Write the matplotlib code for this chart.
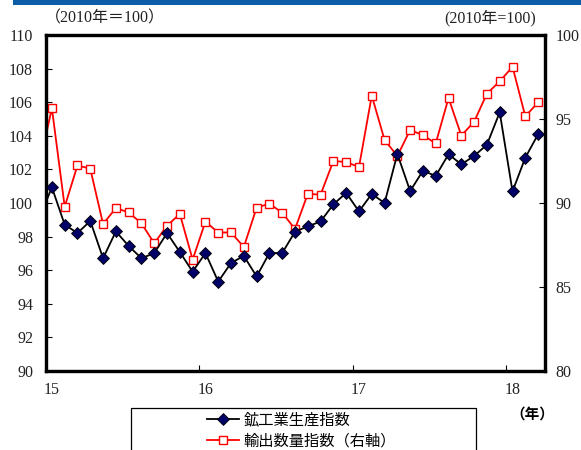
# -*- coding: utf-8 -*-
"""
鉱工業生産指数と輸出数量指数の推移 (2015年1月〜2018年3月)
"""
import matplotlib
matplotlib.use("Agg")
import matplotlib.pyplot as plt
from matplotlib.lines import Line2D
from matplotlib.patches import Rectangle
import numpy as np

# ==================== データ ====================
# 先頭は2014年12月 (左端でクリップされる)
months = np.arange(-1, 39)

production = [
    99.07,
    100.93, 98.71, 98.21, 98.93, 96.71, 98.31, 97.44, 96.71, 97.02, 98.21, 97.08, 95.91,
    97.02, 95.32, 96.43, 96.85, 95.63, 97.02, 97.02, 98.29, 98.61, 98.90, 99.92, 100.60,
    99.50, 100.54, 100.00, 102.92, 100.71, 101.92, 101.61, 102.90, 102.30, 102.80, 103.47, 105.40,
    100.69, 102.70, 104.09,
]

exports = [
    92.20,
    95.64, 89.78, 92.24, 92.04, 88.75, 89.70, 89.44, 88.79, 87.60, 88.65, 89.35, 86.63,
    88.89, 88.24, 88.25, 87.38, 89.72, 89.96, 89.42, 88.45, 90.54, 90.50, 92.50, 92.44,
    92.14, 96.39, 93.75, 92.80, 94.35, 94.03, 93.55, 96.25, 94.01, 94.84, 96.51, 97.24,
    98.11, 95.16, 95.99,
]

year_pos = [0, 12, 24, 36]
year_labels = ["15", "16", "17", "18"]
label_prod = "鉱工業生産指数"
label_exp = "輸出数量指数（右軸）"

SERIF = ["Liberation Serif", "Noto Sans CJK JP"]
JP = ["Noto Sans CJK JP", "DejaVu Sans"]

# ==================== 描画 ====================
fig = plt.figure(figsize=(5.81, 4.5), dpi=100)
ax = fig.add_axes([45.5 / 581, 79 / 450, 499 / 581, 336 / 450])
ax2 = ax.twinx()

ax.plot(months, production, color="black", linewidth=1.3, marker="D", markersize=6,
        markerfacecolor="#000066", markeredgecolor="black", markeredgewidth=0.6,
        zorder=3, clip_on=True)
ax2.plot(months, exports, color="red", linewidth=1.3, marker="s", markersize=5.5,
         markerfacecolor="white", markeredgecolor="red", markeredgewidth=1.0,
         zorder=3, clip_on=True)
ax.set_zorder(ax2.get_zorder() + 1)
ax.patch.set_visible(False)

ax.set_xlim(-0.5, 38.5)
ax.set_ylim(90, 110)
ax2.set_ylim(80, 100)

# x軸: 区切り目盛りは内向き, ラベルは1月の位置
ax.set_xticks([11.5, 23.5, 35.5])
ax.set_xticklabels([])
ax.set_xticks(year_pos, minor=True)
ax.set_xticklabels(year_labels, minor=True, family=SERIF, fontsize=11.5, color="#222222")
ax.tick_params(axis="x", which="major", direction="in", length=4, width=0.8)
ax.tick_params(axis="x", which="minor", length=0, pad=8)

ax.set_yticks(np.arange(90, 111, 2))
ax.set_yticklabels([str(v) for v in range(90, 111, 2)], family=SERIF, fontsize=11.5,
                   color="#222222")
ax.tick_params(axis="y", direction="in", length=4, width=0.8, pad=9)
ax2.set_yticks(np.arange(80, 101, 5))
ax2.set_yticklabels([str(v) for v in range(80, 101, 5)], family=SERIF, fontsize=11.5,
                    color="#222222")
ax2.tick_params(axis="y", direction="in", length=4, width=0.8, pad=8)

for a in (ax, ax2):
    for sp in a.spines.values():
        sp.set_linewidth(2.3)
        sp.set_color("black")

# 上部の青帯
fig.patches.append(Rectangle((13 / 581, 445 / 450), 1, 5 / 450, transform=fig.transFigure,
                             facecolor="#0B5DA8", edgecolor="none"))

fig.text(45 / 581, 1 - 18 / 450, "（2010年＝100）", family=SERIF, fontsize=11.5,
         ha="left", va="center", color="#222222")
fig.text(536 / 581, 1 - 18 / 450, "(2010年=100)", family=SERIF, fontsize=11.5,
         ha="right", va="center", color="#222222")
fig.text(532 / 581, 1 - 414 / 450, "（年）", family=JP, fontsize=10.5, fontweight="bold",
         ha="center", va="center")

# 凡例 (枠は図の下端まで伸びる)
fig.patches.append(Rectangle((131 / 581, -0.05), 345 / 581, 0.05 + 42 / 450,
                             transform=fig.transFigure, facecolor="white",
                             edgecolor="black", linewidth=0.9))
handles = [
    Line2D([], [], color="black", linewidth=1.3, marker="D", markersize=6,
           markerfacecolor="#000066", markeredgecolor="black", markeredgewidth=0.6),
    Line2D([], [], color="red", linewidth=1.3, marker="s", markersize=5.5,
           markerfacecolor="white", markeredgecolor="red", markeredgewidth=1.0),
]
fig.legend(handles, [label_prod, label_exp], loc="upper left",
           bbox_to_anchor=(207 / 581, 1 - 411 / 450), frameon=False,
           prop={"family": JP, "size": 11}, handlelength=2.1, handletextpad=0.3,
           borderpad=0, borderaxespad=0, labelspacing=0.3)

fig.savefig("out.png", dpi=100)
plt.close(fig)
